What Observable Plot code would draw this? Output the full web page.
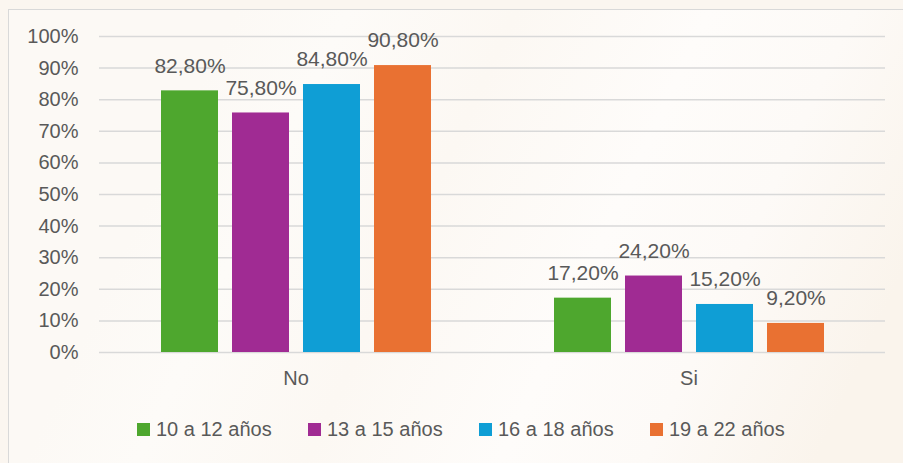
<!DOCTYPE html>
<html><head><meta charset="utf-8">
<script src="https://cdn.jsdelivr.net/npm/d3@7"></script>
<script src="https://cdn.jsdelivr.net/npm/@observablehq/plot@0.6"></script>
<style>
html,body{margin:0;padding:0;width:903px;height:463px;overflow:hidden;background:#fbf6f0;font-family:"Liberation Sans",Arial,sans-serif;}
#frame{position:absolute;left:8px;top:9px;width:910px;height:470px;border:1.5px solid #d9d9d9;
  background:linear-gradient(115deg,#fcf9f5 0%,#fcf9f5 20%,#fdfbf8 30%,#fcf8f3 45%,#fefcfa 62%,#fdfaf7 75%,#faf4ec 90%);}
#chart{position:absolute;left:0;top:0;}
#legend{position:absolute;left:137px;top:418px;display:flex;font-size:20px;color:#595959;}
.item{width:171px;display:flex;align-items:center;white-space:nowrap;}
.sw{width:13px;height:13px;margin-right:6px;flex:none;}
</style>
</head><body>
<div id="frame"></div>
<div id="chart"></div>
<div id="legend"></div>
<script>
const categories = ["No", "Si"];
const series = ["10 a 12 años", "13 a 15 años", "16 a 18 años", "19 a 22 años"];
const colors = ["#4ea72e", "#a02b93", "#0f9ed5", "#e97132"];
const noValues = [82.8, 75.8, 84.8, 90.8];
const siValues = [17.2, 24.2, 15.2, 9.2];
const yTicks = [0, 10, 20, 30, 40, 50, 60, 70, 80, 90, 100];

const valuesByCat = {No: noValues, Si: siValues};
const data = categories.flatMap(c => series.map((s, j) => ({cat: c, serie: s, value: valuesByCat[c][j]})));
const fmt = v => v.toFixed(2).replace(".", ",") + "%";

const chart = Plot.plot({
  width: 903,
  height: 400,
  marginLeft: 98,
  marginRight: 18,
  marginTop: 36,
  marginBottom: 48,
  style: {background: "transparent", fontFamily: "'Liberation Sans', Arial, sans-serif", fontSize: "20px", color: "#595959"},
  fx: {domain: categories, padding: 0, label: null, axis: "bottom", tickSize: 0, tickPadding: 18},
  x: {domain: series, paddingInner: 0.2, paddingOuter: 0.85, axis: null},
  y: {domain: [0, 100], label: null, axis: null},
  color: {domain: series, range: colors},
  marks: [
    Plot.gridY(yTicks, {stroke: "#d9d9d9", strokeOpacity: 1, strokeWidth: 1.5}),
    Plot.axisY(yTicks, {anchor: "left", facetAnchor: "left", tickSize: 0, tickPadding: 21, tickFormat: d => d + "%", label: null, fill: "#595959"}),
    Plot.barY(data, {fx: "cat", x: "serie", y: "value", fill: "serie"}),
    Plot.text(data, {fx: "cat", x: "serie", y: "value", text: d => fmt(d.value), dy: -25, fill: "#595959", fontSize: 21})
  ]
});
document.getElementById("chart").appendChild(chart);

const legend = document.getElementById("legend");
series.forEach((s, i) => {
  const it = document.createElement("div");
  it.className = "item";
  it.innerHTML = `<span class="sw" style="background:${colors[i]}"></span><span>${s}</span>`;
  legend.appendChild(it);
});
</script>
</body></html>
